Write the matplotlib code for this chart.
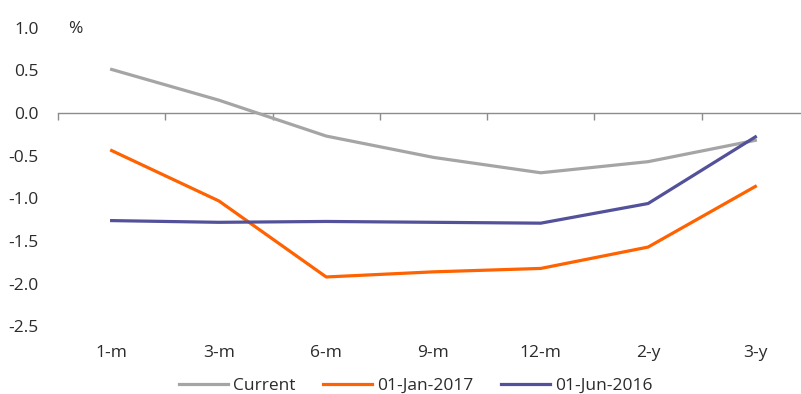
"""Yield curve snapshots by tenor, three dates on one chart."""

import matplotlib

matplotlib.use("Agg")

import matplotlib.pyplot as plt
import numpy as np
from matplotlib.ticker import FixedLocator

plt.rcParams["font.family"] = ["Open Sans", "DejaVu Sans"]

TENORS = ["1-m", "3-m", "6-m", "9-m", "12-m", "2-y", "3-y"]
CURRENT = [0.51, 0.15, -0.27, -0.52, -0.70, -0.57, -0.32]
JAN_2017 = [-0.44, -1.03, -1.92, -1.86, -1.82, -1.57, -0.86]
JUN_2016 = [-1.26, -1.28, -1.27, -1.28, -1.29, -1.06, -0.28]

SERIES = [
    ("Current", CURRENT, "#a5a5a5"),
    ("01-Jan-2017", JAN_2017, "#ff6200"),
    ("01-Jun-2016", JUN_2016, "#525199"),
]
TEXT = "#2b2b2b"

W, H = 801, 394
fig = plt.figure(figsize=(W / 100, H / 100), dpi=100)
left, right, top, bottom = 58, 809, 27.6, 326.5
ax = fig.add_axes([left / W, 1 - bottom / H, (right - left) / W, (bottom - top) / H])

x = np.arange(len(TENORS))
for name, values, color in SERIES:
    ax.plot(x, values, color=color, linewidth=2.3, label=name, solid_joinstyle="round")

ax.set_xlim(-0.5, len(TENORS) - 0.5)
ax.set_ylim(-2.5, 1.0)
ax.set_yticks(np.arange(-2.5, 1.01, 0.5))
ax.set_yticklabels([f"{v:.1f}" for v in np.arange(-2.5, 1.01, 0.5)])

ax.set_xticks(x)
ax.set_xticklabels(TENORS)
ax.xaxis.set_minor_locator(FixedLocator(np.arange(-0.5, len(TENORS), 1.0)))

# zero line with category separators, labels stay at the bottom
for side in ["left", "right", "bottom"]:
    ax.spines[side].set_visible(False)
ax.spines["top"].set_position(("data", 0))
ax.spines["top"].set_color("#8c8c8c")
ax.spines["top"].set_linewidth(1.0)
ax.spines["top"].set_zorder(0)
ax.tick_params(axis="x", which="major", bottom=False, top=False, labelbottom=True,
               labeltop=False, pad=10, labelsize=12.5, labelcolor=TEXT)
ax.tick_params(axis="x", which="minor", bottom=False, top=True, direction="in",
               length=5, width=1.0, color="#8c8c8c")
ax.tick_params(axis="y", length=0, pad=14, labelsize=12.5, labelcolor=TEXT)

ax.annotate("%", xy=(0, 1), xycoords="axes fraction", xytext=(12.5, -1),
            textcoords="offset points", ha="center", va="center",
            fontsize=12.5, color=TEXT)

fig.legend(loc="center", bbox_to_anchor=(416 / W, 1 - 385.5 / H), ncol=3, frameon=False,
           fontsize=12.5, handlelength=2.8, handletextpad=0.3, columnspacing=1.6,
           labelcolor=TEXT, borderpad=0.2)

fig.savefig("out.png", dpi=100)
